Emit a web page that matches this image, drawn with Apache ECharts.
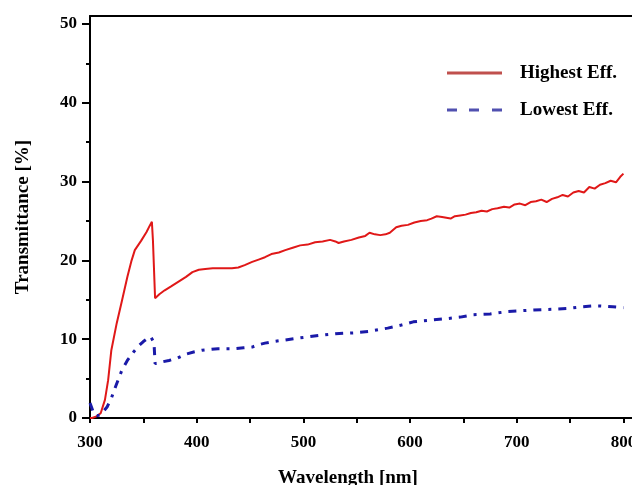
<!DOCTYPE html>
<html>
<head>
<meta charset="utf-8">
<script src="https://cdn.jsdelivr.net/npm/echarts@6/dist/echarts.min.js"></script>
<style>html,body{margin:0;padding:0;background:#fff}#c{width:632px;height:485px}</style>
</head>
<body>
<div id="c"></div>
<script>
// Wavelength (nm) and transmittance (%) for the highest-efficiency sample
const wlHigh = [300,302,306,310,314,317,320,325,330,335,339,342,348,353,356,358,359,360,361,365,370,376,383,390,396,402,408,415,420,427,433,439,445,452,458,464,470,477,483,490,497,504,511,518,525,530,533,538,545,552,558,562,567,572,577,581,587,592,598,604,610,616,620,625,630,634,638,642,647,652,657,662,667,672,677,682,688,693,698,703,708,713,718,723,728,733,738,743,748,753,758,763,768,773,778,783,788,793,797,800];
const tHigh = [0,0,0.2,0.6,2.3,4.8,8.6,12,14.9,17.9,20,21.3,22.5,23.6,24.4,24.9,22.5,22.3,15.2,15.7,16.2,16.7,17.3,17.9,18.5,18.8,18.9,19.0,19.0,19.0,19.0,19.1,19.4,19.8,20.1,20.4,20.8,21.0,21.3,21.6,21.9,22.0,22.3,22.4,22.6,22.4,22.2,22.4,22.6,22.9,23.1,23.5,23.3,23.2,23.3,23.5,24.2,24.4,24.5,24.8,25.0,25.1,25.3,25.6,25.5,25.4,25.3,25.6,25.7,25.8,26.0,26.1,26.3,26.2,26.5,26.6,26.8,26.7,27.1,27.2,27.0,27.4,27.5,27.7,27.4,27.8,28.0,28.3,28.1,28.6,28.8,28.6,29.3,29.1,29.6,29.8,30.1,29.9,30.6,31.0];
// Lowest-efficiency sample
const wlLow = [300,304,307,310,316,320,324,330,335,341,346,350,354,357,359,360,361,367,374,382,390,398,405,413,420,428,436,444,452,458,464,472,483,493,505,516,530,547,562,579,592,603,618,634,647,659,675,691,703,716,734,748,760,770,779,790,800];
const tLow = [1.9,0.4,0.3,0.4,1.4,2.5,4.0,6.1,7.3,8.4,9.2,9.7,10.1,10.3,9.8,9.5,6.9,7.1,7.3,7.6,8.1,8.4,8.6,8.7,8.8,8.8,8.8,8.9,9.0,9.3,9.5,9.7,9.9,10.1,10.3,10.5,10.7,10.8,11.0,11.4,11.8,12.2,12.4,12.6,12.8,13.1,13.2,13.5,13.6,13.7,13.8,13.9,14.1,14.2,14.2,14.1,14.0];
const seriesNames = ['Highest Eff.', 'Lowest Eff.'];
const xMajor = [300,400,500,600,700,800];
const xMinor = [350,450,550,650,750];
const yMajor = [0,10,20,30,40,50];
const yMinor = [5,15,25,35,45];

const font = 'Liberation Serif';
const chart = echarts.init(document.getElementById('c'));
const axisLineStyle = {color:'#000', width:2};
chart.setOption({
  animation:false,
  backgroundColor:'#fff',
  grid:{left:90, right:0, top:16, bottom:67, outerBoundsMode:'none', containLabel:false},
  legend:{
    orient:'vertical', left:447, top:63, padding:0, itemWidth:55, itemHeight:3, itemGap:17,
    textStyle:{fontFamily:font, fontWeight:'bold', fontSize:19, color:'#000', lineHeight:20, padding:[0,0,0,13]},
    data:[
      {name:seriesNames[0], icon:'rect', itemStyle:{color:'#c0504d'}},
      {name:seriesNames[1], icon:'path://M0,0h10v3h-10z M22,0h10v3h-10z M45,0h10v3h-10z', itemStyle:{color:'#5050b0'}}
    ]
  },
  xAxis:[
    {type:'value', min:300, max:808, position:'bottom',
     axisLine:{show:true, lineStyle:axisLineStyle},
     axisTick:{show:true, customValues:xMajor, length:5, lineStyle:{color:'#000', width:2}},
     axisLabel:{customValues:xMajor, margin:16, fontFamily:font, fontWeight:'bold', fontSize:17, color:'#000'},
     splitLine:{show:false},
     name:'Wavelength [nm]', nameLocation:'middle', nameGap:51,
     nameTextStyle:{fontFamily:font, fontWeight:'bold', fontSize:19, color:'#000', padding:[0,26,0,0]}},
    {type:'value', min:300, max:808, position:'bottom',
     axisLine:{show:false},
     axisTick:{show:true, customValues:xMinor, length:5, lineStyle:{color:'#000', width:2}},
     axisLabel:{show:false}, splitLine:{show:false}},
    {type:'value', min:300, max:808, position:'top',
     axisLine:{show:true, lineStyle:axisLineStyle},
     axisTick:{show:false}, axisLabel:{show:false}, splitLine:{show:false}}
  ],
  yAxis:[
    {type:'value', min:0, max:51, position:'left',
     axisLine:{show:true, lineStyle:axisLineStyle},
     axisTick:{show:true, customValues:yMajor, length:8, lineStyle:{color:'#000', width:2}},
     axisLabel:{customValues:yMajor, margin:13, fontFamily:font, fontWeight:'bold', fontSize:17, color:'#000'},
     splitLine:{show:false},
     name:'Transmittance [%]', nameLocation:'middle', nameGap:57,
     nameTextStyle:{fontFamily:font, fontWeight:'bold', fontSize:19, color:'#000'}},
    {type:'value', min:0, max:51, position:'left',
     axisLine:{show:false},
     axisTick:{show:true, customValues:yMinor, length:4, lineStyle:{color:'#000', width:2}},
     axisLabel:{show:false}, splitLine:{show:false}}
  ],
  series:[
    {name:seriesNames[0], type:'line', xAxisIndex:0, yAxisIndex:0, symbol:'none',
     lineStyle:{color:'#e01818', width:2}, itemStyle:{color:'#e01818'},
     data:wlHigh.map((w,i)=>[w,tHigh[i]])},
    {name:seriesNames[1], type:'line', xAxisIndex:0, yAxisIndex:0, symbol:'none',
     lineStyle:{color:'#1a1aa8', width:3, type:[8,7,3,7]}, itemStyle:{color:'#1a1aa8'},
     data:wlLow.map((w,i)=>[w,tLow[i]])}
  ]
});
</script>
</body>
</html>
